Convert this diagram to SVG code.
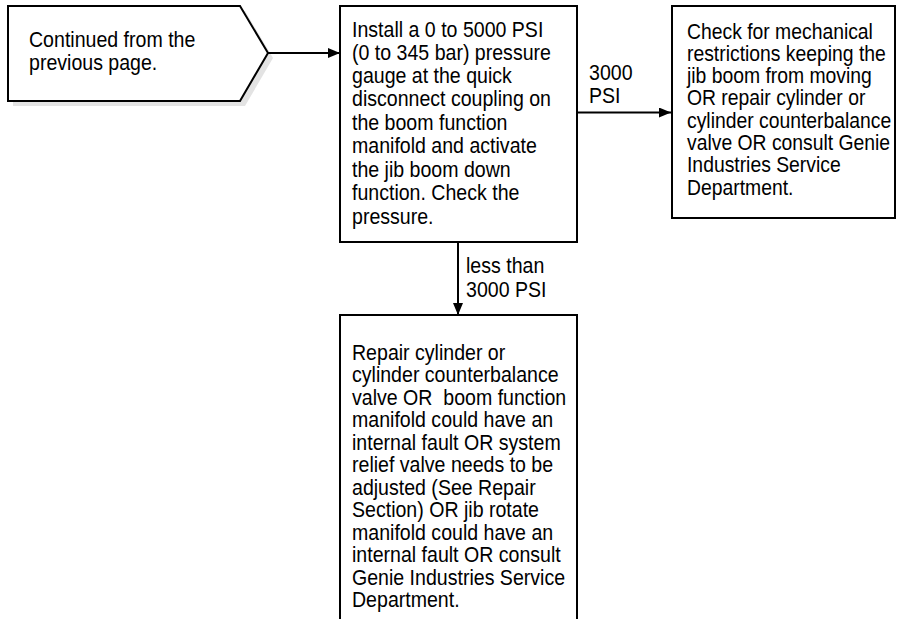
<svg xmlns="http://www.w3.org/2000/svg" width="897" height="619" viewBox="0 0 897 619">
<style>
.box{fill:#fff;stroke:#000;stroke-width:2}
.shadow{fill:#e3e3e3;stroke:none}
.t{font-family:"Liberation Sans",Arial,sans-serif;font-size:21.5px;fill:#000;white-space:pre}
.c{stroke:#000;stroke-width:2;fill:none}
</style>
<defs>
<marker id="ah" markerWidth="12" markerHeight="10" refX="12" refY="5" orient="auto" markerUnits="userSpaceOnUse">
<path d="M0,0 L12,5 L0,10 Z" fill="#000"/>
</marker>
</defs>
<rect width="897" height="619" fill="#fff"/>
<g id="start">
<polygon class="shadow" points="13,11 245,11 273,58 245,106 13,106"/>
<polygon class="box" points="8,6 240,6 268,53 240,101 8,101"/>
<g transform="translate(29,0) scale(0.91,1)">
<text class="t" x="0" y="47.5">Continued from the</text>
<text class="t" x="0" y="70">previous page.</text>
</g>
</g>
<g id="check-pressure">
<rect class="box" x="340" y="6" width="237" height="236"/>
<g transform="translate(352,0) scale(0.91,1)">
<text class="t" x="0" y="37">Install a 0 to 5000 PSI</text>
<text class="t" x="0" y="60">(0 to 345 bar) pressure</text>
<text class="t" x="0" y="83">gauge at the quick</text>
<text class="t" x="0" y="106">disconnect coupling on</text>
<text class="t" x="0" y="130">the boom function</text>
<text class="t" x="0" y="153">manifold and activate</text>
<text class="t" x="0" y="177">the jib boom down</text>
<text class="t" x="0" y="200">function. Check the</text>
<text class="t" x="0" y="224">pressure.</text>
</g>
</g>
<g id="mechanical">
<rect class="box" x="672" y="6" width="223" height="212"/>
<g transform="translate(687,0) scale(0.9,1)">
<text class="t" x="0" y="39">Check for mechanical</text>
<text class="t" x="0" y="61">restrictions keeping the</text>
<text class="t" x="0" y="83">jib boom from moving</text>
<text class="t" x="0" y="105">OR repair cylinder or</text>
<text class="t" x="0" y="128">cylinder counterbalance</text>
<text class="t" x="0" y="150">valve OR consult Genie</text>
<text class="t" x="0" y="172">Industries Service</text>
<text class="t" x="0" y="195">Department.</text>
</g>
</g>
<g id="repair">
<path class="box" d="M340,630 L340,315 L577,315 L577,630"/>
<g transform="translate(352,0) scale(0.91,1)">
<text class="t" x="0" y="360">Repair cylinder or</text>
<text class="t" x="0" y="382">cylinder counterbalance</text>
<text class="t" x="0" y="405">valve OR  boom function</text>
<text class="t" x="0" y="427">manifold could have an</text>
<text class="t" x="0" y="450">internal fault OR system</text>
<text class="t" x="0" y="472">relief valve needs to be</text>
<text class="t" x="0" y="495">adjusted (See Repair</text>
<text class="t" x="0" y="517">Section) OR jib rotate</text>
<text class="t" x="0" y="540">manifold could have an</text>
<text class="t" x="0" y="562">internal fault OR consult</text>
<text class="t" x="0" y="585">Genie Industries Service</text>
<text class="t" x="0" y="607">Department.</text>
</g>
</g>
<g id="connectors">
<line class="c" x1="268" y1="53" x2="340" y2="53" marker-end="url(#ah)"/>
<line class="c" x1="577" y1="112.5" x2="671" y2="112.5" marker-end="url(#ah)"/>
<line class="c" x1="458" y1="242" x2="458" y2="315" marker-end="url(#ah)"/>
<g transform="translate(589,0) scale(0.91,1)">
<text class="t" x="0" y="80">3000</text>
<text class="t" x="0" y="103">PSI</text>
</g>
<g transform="translate(466,0) scale(0.91,1)">
<text class="t" x="0" y="273">less than</text>
<text class="t" x="0" y="297">3000 PSI</text>
</g>
</g>
</svg>
